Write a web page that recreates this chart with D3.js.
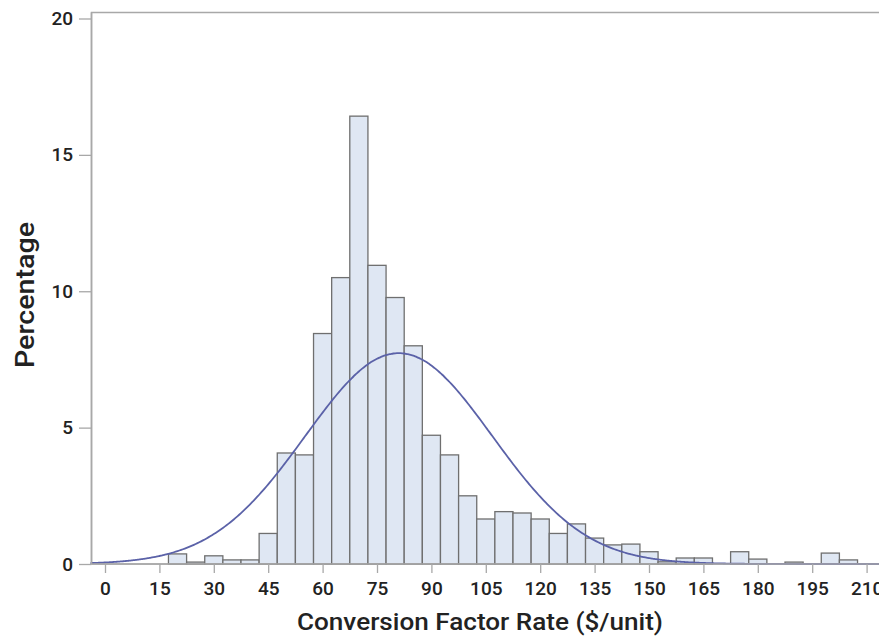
<!DOCTYPE html>
<html><head><meta charset="utf-8">
<script src="https://cdn.jsdelivr.net/npm/d3@7"></script>
<style>
html,body{margin:0;padding:0;background:#fff;}
svg{display:block;}
</style></head>
<body>
<svg id="c" width="879" height="638"></svg>
<script>
// Bin centers (width 5) and percentage in each bin
const binCenters = [0,5,10,15,20,25,30,35,40,45,50,55,60,65,70,75,80,85,90,95,100,105,110,115,120,125,130,135,140,145,150,155,160,165,170,175,180,185,190,195,200,205,210];
const percents   = [0,0,0,0,0.37,0.07,0.3,0.15,0.15,1.12,4.07,4.0,8.45,10.5,16.42,10.95,9.77,8.0,4.72,4.0,2.5,1.65,1.92,1.87,1.65,1.12,1.47,0.95,0.7,0.73,0.45,0.08,0.22,0.22,0,0.45,0.18,0,0.07,0,0.4,0.15,0];
const binWidth = 5;
const xTicks = [0,15,30,45,60,75,90,105,120,135,150,165,180,195,210];
const yTicks = [0,5,10,15,20];
// Fitted normal curve parameters
const normMean = 81;
const normSd = 25.8;

const svg = d3.select("#c");
const x = d3.scaleLinear().domain([0,210]).range([105,866.6]);
const y = d3.scaleLinear().domain([0,20]).range([564,18.5]);

const frameL = 91.5, frameT = 12.5, frameR = 890, frameB = 564;

// frame
svg.append("rect").attr("x",frameL).attr("y",frameT).attr("width",frameR-frameL).attr("height",frameB-frameT)
  .attr("fill","#fff").attr("stroke","#a8a8a8").attr("stroke-width",1.5);

// bars
const data = binCenters.map((c,i)=>({c, v:percents[i]})).filter(d=>d.v>0);
svg.append("g").selectAll("rect").data(data).join("rect")
  .attr("x",d=>x(d.c-binWidth/2))
  .attr("width",d=>x(d.c+binWidth/2)-x(d.c-binWidth/2))
  .attr("y",d=>y(d.v))
  .attr("height",d=>y(0)-y(d.v))
  .attr("fill","#dfe7f3").attr("stroke","#6f6f6f").attr("stroke-width",1.3);

// normal curve
const pts = d3.range(-4, 214.01, 0.5).map(v=>{
  const z=(v-normMean)/normSd;
  return [v, binWidth*100*Math.exp(-0.5*z*z)/(normSd*Math.sqrt(2*Math.PI))];
});
svg.append("path").datum(pts)
  .attr("d",d3.line().x(d=>x(d[0])).y(d=>y(d[1])).curve(d3.curveBasis))
  .attr("fill","none").attr("stroke","#5b62a8").attr("stroke-width",1.8);

// redraw frame lines on top
svg.append("line").attr("x1",frameL).attr("x2",frameR).attr("y1",frameB).attr("y2",frameB).attr("stroke","#a8a8a8").attr("stroke-width",1.5);
svg.append("line").attr("x1",frameL).attr("x2",frameL).attr("y1",frameT).attr("y2",frameB).attr("stroke","#a8a8a8").attr("stroke-width",1.5);

// axes
const fontFam = "Roboto, 'Liberation Sans', Arial, sans-serif";
const xAxis = svg.append("g").attr("transform",`translate(0,${frameB})`)
  .call(d3.axisBottom(x).tickValues(xTicks).tickSize(9).tickPadding(9));
xAxis.select(".domain").remove();
xAxis.selectAll("line").attr("stroke","#a8a8a8").attr("stroke-width",1.3);
xAxis.selectAll("text").attr("font-family",fontFam).attr("font-size",19).attr("font-weight",500)
  .attr("fill","#222");

const yAxis = svg.append("g").attr("transform",`translate(${frameL},0)`)
  .call(d3.axisLeft(y).tickValues(yTicks).tickSize(12.5).tickPadding(6));
yAxis.select(".domain").remove();
yAxis.selectAll("line").attr("stroke","#a8a8a8").attr("stroke-width",1.3);
yAxis.selectAll("text").attr("font-family",fontFam).attr("font-size",19).attr("font-weight",500)
  .attr("fill","#222");

// titles
svg.append("text").attr("x",480).attr("y",630).attr("text-anchor","middle")
  .attr("font-family",fontFam).attr("font-size",24).attr("font-weight",500).attr("fill","#222")
  .attr("textLength",366).attr("lengthAdjust","spacingAndGlyphs")
  .text("Conversion Factor Rate ($/unit)");
svg.append("text").attr("transform","translate(33.5,295) rotate(-90)").attr("text-anchor","middle")
  .attr("font-family",fontFam).attr("font-size",25).attr("font-weight",500).attr("fill","#222")
  .attr("textLength",146).attr("lengthAdjust","spacingAndGlyphs")
  .text("Percentage");
</script>
</body></html>
